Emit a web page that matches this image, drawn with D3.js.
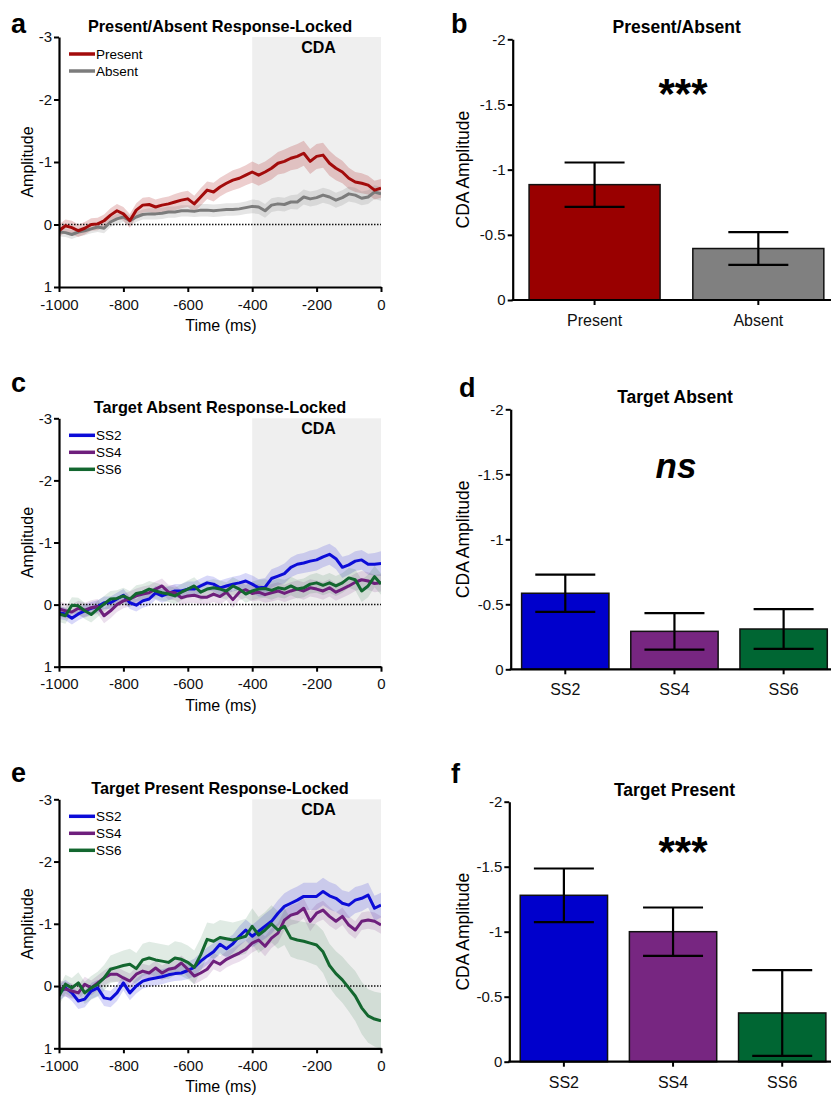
<!DOCTYPE html>
<html>
<head>
<meta charset="utf-8">
<script src="https://cdn.jsdelivr.net/npm/d3@7"></script>
<style>
  body { margin: 0; background: #fff; }
  svg { display: block; font-family: "Liberation Sans", Arial, sans-serif; }
</style>
</head>
<body>
<script>
// ---------- data ----------
// ERP sample times (ms, response-locked), one sample every 20 ms
const times = d3.range(-1000, 1, 20);
const cdaWindow = [-400, 0];
const lineTicksX = [-1000, -800, -600, -400, -200, 0];
const lineTicksY = [-3, -2, -1, 0, 1];
const barTicksY = [-2, -1.5, -1, -0.5, 0];

// Panel a: present / absent (amplitude, µV; negative is plotted upward)
const presentWave = [0.1, 0.02, 0.05, 0.1, 0.06, 0.0, -0.01, -0.06, -0.15, -0.22,
  -0.17, -0.06, -0.23, -0.31, -0.32, -0.28, -0.31, -0.33, -0.36, -0.39,
  -0.41, -0.33, -0.44, -0.55, -0.52, -0.6, -0.66, -0.71, -0.74, -0.79,
  -0.84, -0.79, -0.84, -0.9, -0.98, -1.01, -1.06, -1.09, -1.14, -1.01,
  -1.09, -1.11, -0.98, -0.9, -0.84, -0.74, -0.68, -0.66, -0.63, -0.55, -0.58];
const presentSem = [0.1, 0.1, 0.11, 0.1, 0.1, 0.1, 0.1, 0.1, 0.11, 0.11,
  0.11, 0.11, 0.11, 0.12, 0.12, 0.12, 0.12, 0.12, 0.13, 0.13,
  0.13, 0.13, 0.14, 0.14, 0.15, 0.15, 0.15, 0.16, 0.16, 0.16,
  0.17, 0.17, 0.17, 0.18, 0.18, 0.19, 0.19, 0.2, 0.2, 0.2,
  0.2, 0.2, 0.2, 0.19, 0.18, 0.17, 0.16, 0.16, 0.15, 0.15, 0.15];
const absentWave = [0.12, 0.13, 0.16, 0.12, 0.1, 0.07, 0.04, 0.06, -0.04, -0.09,
  -0.12, -0.06, -0.12, -0.16, -0.17, -0.17, -0.18, -0.2, -0.2, -0.22,
  -0.22, -0.21, -0.23, -0.23, -0.22, -0.23, -0.24, -0.24, -0.25, -0.27,
  -0.29, -0.28, -0.22, -0.31, -0.33, -0.32, -0.36, -0.36, -0.44, -0.41,
  -0.43, -0.47, -0.44, -0.39, -0.43, -0.49, -0.47, -0.42, -0.44, -0.52, -0.49];
const absentSem = [0.07, 0.07, 0.07, 0.07, 0.07, 0.07, 0.08, 0.08, 0.08, 0.08,
  0.08, 0.08, 0.08, 0.08, 0.09, 0.09, 0.09, 0.09, 0.09, 0.09,
  0.09, 0.09, 0.1, 0.1, 0.1, 0.1, 0.1, 0.1, 0.1, 0.1,
  0.11, 0.11, 0.11, 0.11, 0.11, 0.11, 0.11, 0.12, 0.12, 0.12,
  0.12, 0.12, 0.12, 0.12, 0.12, 0.12, 0.12, 0.11, 0.11, 0.11, 0.11];

// Panel c: target absent, by set size
const absSS2 = [0.13, 0.15, 0.22, 0.15, 0.1, 0.06, 0.03, -0.03, -0.03, -0.09,
  -0.15, -0.03, 0.01, -0.06, -0.09, -0.19, -0.14, -0.18, -0.22, -0.22,
  -0.25, -0.25, -0.3, -0.35, -0.33, -0.27, -0.3, -0.33, -0.35, -0.38,
  -0.33, -0.27, -0.28, -0.42, -0.46, -0.5, -0.6, -0.65, -0.67, -0.7,
  -0.72, -0.77, -0.81, -0.74, -0.6, -0.64, -0.7, -0.72, -0.65, -0.65, -0.66];
const absSS2Sem = [0.1, 0.1, 0.1, 0.1, 0.1, 0.1, 0.1, 0.1, 0.1, 0.1,
  0.1, 0.1, 0.1, 0.11, 0.11, 0.11, 0.11, 0.11, 0.11, 0.11,
  0.12, 0.12, 0.12, 0.12, 0.12, 0.12, 0.12, 0.12, 0.12, 0.13,
  0.14, 0.14, 0.15, 0.15, 0.15, 0.16, 0.16, 0.16, 0.16, 0.17,
  0.17, 0.17, 0.17, 0.17, 0.17, 0.16, 0.16, 0.16, 0.17, 0.18, 0.2];
const absSS4 = [0.07, 0.1, 0.12, 0.06, 0.09, 0.05, 0.03, 0.18, 0.1, 0.0,
  -0.06, -0.09, -0.14, -0.17, -0.19, -0.25, -0.3, -0.2, -0.19, -0.11,
  -0.14, -0.15, -0.12, -0.12, -0.17, -0.13, -0.2, -0.08, -0.2, -0.24,
  -0.18, -0.2, -0.16, -0.19, -0.22, -0.18, -0.22, -0.25, -0.22, -0.27,
  -0.25, -0.22, -0.27, -0.2, -0.25, -0.3, -0.36, -0.4, -0.38, -0.34, -0.35];
const absSS4Sem = [0.12, 0.12, 0.12, 0.12, 0.12, 0.12, 0.12, 0.12, 0.12, 0.12,
  0.12, 0.12, 0.12, 0.12, 0.12, 0.12, 0.12, 0.12, 0.12, 0.12,
  0.12, 0.12, 0.12, 0.12, 0.13, 0.13, 0.13, 0.13, 0.13, 0.13,
  0.13, 0.13, 0.13, 0.14, 0.14, 0.14, 0.14, 0.14, 0.14, 0.14,
  0.14, 0.14, 0.14, 0.14, 0.14, 0.14, 0.14, 0.14, 0.14, 0.14, 0.14];
const absSS6 = [0.15, 0.18, 0.01, 0.02, 0.1, 0.16, 0.07, -0.01, -0.09, -0.1,
  -0.14, -0.09, -0.18, -0.2, -0.25, -0.22, -0.19, -0.17, -0.14, -0.2,
  -0.25, -0.3, -0.2, -0.25, -0.27, -0.25, -0.22, -0.3, -0.25, -0.17,
  -0.22, -0.25, -0.26, -0.23, -0.27, -0.25, -0.3, -0.25, -0.27, -0.33,
  -0.35, -0.31, -0.35, -0.3, -0.35, -0.43, -0.4, -0.22, -0.3, -0.45, -0.33];
const absSS6Sem = [0.13, 0.13, 0.13, 0.13, 0.13, 0.13, 0.13, 0.13, 0.13, 0.13,
  0.13, 0.13, 0.13, 0.13, 0.13, 0.13, 0.13, 0.13, 0.13, 0.13,
  0.14, 0.14, 0.14, 0.14, 0.14, 0.14, 0.14, 0.14, 0.14, 0.14,
  0.15, 0.15, 0.15, 0.15, 0.15, 0.15, 0.15, 0.15, 0.15, 0.15,
  0.16, 0.16, 0.16, 0.16, 0.16, 0.16, 0.17, 0.18, 0.18, 0.17, 0.17];

// Panel e: target present, by set size
const presSS2 = [0.11, 0.03, 0.11, 0.24, 0.21, 0.08, 0.03, 0.19, 0.21, 0.11,
  -0.05, 0.11, 0.0, -0.08, -0.11, -0.13, -0.15, -0.18, -0.2, -0.21,
  -0.25, -0.3, -0.4, -0.48, -0.55, -0.67, -0.6, -0.68, -0.8, -0.9,
  -0.8, -0.88, -0.96, -1.04, -1.17, -1.28, -1.33, -1.38, -1.44, -1.44,
  -1.44, -1.52, -1.45, -1.41, -1.33, -1.3, -1.38, -1.41, -1.46, -1.25, -1.3];
const presSS2Sem = [0.13, 0.13, 0.13, 0.13, 0.13, 0.13, 0.13, 0.13, 0.13, 0.13,
  0.12, 0.12, 0.12, 0.12, 0.12, 0.12, 0.12, 0.12, 0.12, 0.12,
  0.14, 0.14, 0.14, 0.14, 0.14, 0.14, 0.15, 0.15, 0.16, 0.17,
  0.18, 0.19, 0.2, 0.2, 0.21, 0.21, 0.22, 0.22, 0.22, 0.22,
  0.22, 0.22, 0.22, 0.22, 0.21, 0.21, 0.21, 0.21, 0.2, 0.2, 0.2];
const presSS4 = [0.03, 0.05, 0.08, 0.11, -0.03, 0.03, -0.05, -0.13, -0.19, -0.19,
  -0.13, -0.08, -0.19, -0.24, -0.21, -0.29, -0.21, -0.27, -0.29, -0.37,
  -0.27, -0.16, -0.21, -0.27, -0.4, -0.35, -0.43, -0.48, -0.53, -0.59,
  -0.69, -0.74, -0.64, -0.77, -0.85, -1.06, -1.14, -1.17, -1.25, -1.04,
  -1.17, -1.22, -1.12, -1.04, -1.12, -0.98, -0.9, -1.04, -1.06, -1.04, -0.98];
const presSS4Sem = [0.12, 0.12, 0.12, 0.12, 0.12, 0.12, 0.12, 0.12, 0.12, 0.12,
  0.12, 0.12, 0.12, 0.12, 0.12, 0.12, 0.12, 0.12, 0.12, 0.12,
  0.13, 0.13, 0.13, 0.13, 0.13, 0.13, 0.13, 0.13, 0.14, 0.14,
  0.15, 0.15, 0.16, 0.16, 0.16, 0.16, 0.16, 0.16, 0.16, 0.16,
  0.15, 0.15, 0.15, 0.14, 0.14, 0.14, 0.14, 0.14, 0.14, 0.14, 0.14];
const presSS6 = [0.16, -0.03, 0.03, -0.05, 0.11, 0.03, -0.03, -0.13, -0.27, -0.3,
  -0.33, -0.35, -0.28, -0.42, -0.45, -0.42, -0.4, -0.38, -0.45, -0.43,
  -0.38, -0.3, -0.5, -0.75, -0.72, -0.78, -0.76, -0.74, -0.77, -0.8,
  -0.96, -0.82, -0.9, -1.0, -0.9, -0.96, -0.77, -0.74, -0.72, -0.69,
  -0.66, -0.55, -0.33, -0.2, -0.1, 0.03, 0.16, 0.35, 0.48, 0.53, 0.56];
const presSS6Sem = [0.15, 0.15, 0.16, 0.17, 0.18, 0.19, 0.2, 0.21, 0.22, 0.23,
  0.24, 0.25, 0.25, 0.26, 0.26, 0.27, 0.27, 0.27, 0.27, 0.27,
  0.27, 0.27, 0.27, 0.27, 0.28, 0.28, 0.28, 0.28, 0.28, 0.28,
  0.29, 0.29, 0.29, 0.3, 0.3, 0.3, 0.3, 0.31, 0.31, 0.32,
  0.33, 0.34, 0.35, 0.36, 0.37, 0.38, 0.4, 0.42, 0.43, 0.44, 0.45];

// Mean CDA amplitude in the window, with SEM error bars
const barPresAbsCats = ["Present", "Absent"];
const barPresAbsMeans = [-0.885, -0.395];
const barPresAbsErr = [0.17, 0.125];
const setSizeCats = ["SS2", "SS4", "SS6"];
const barAbsentMeans = [-0.585, -0.292, -0.31];
const barAbsentErr = [0.143, 0.14, 0.153];
const barPresentMeans = [-1.28, -1.0, -0.375];
const barPresentErr = [0.206, 0.186, 0.33];

// ---------- palette ----------
const colPresent = "#a30b0b", colAbsent = "#7c7c7c";
const colSS2 = "#0c0cd8", colSS4 = "#6e1f7c", colSS6 = "#13672f";
const barColPresent = "#990000", barColAbsent = "#808080";
const barColSS2 = "#0000cc", barColSS4 = "#772681", barColSS6 = "#006633";

const svg = d3.select("body").append("svg").attr("width", 831).attr("height", 1096);
const FONT = '"Liberation Sans", Arial, sans-serif';
const fmt = d => String(d);

function panelLetter(txt, x, y) {
  svg.append("text").attr("x", x).attr("y", y).attr("font-size", 27)
    .attr("font-weight", "bold").text(txt);
}

function linePanel(p) {
  const x = d3.scaleLinear().domain([-1000, 0]).range([59, 381]);
  const y = d3.scaleLinear().domain([-3, 1]).range([p.top, p.bottom]);
  const g = svg.append("g");

  const clipId = "clip-" + p.letter;
  svg.append("clipPath").attr("id", clipId).append("rect")
    .attr("x", x(-1000)).attr("y", p.top)
    .attr("width", x(0) - x(-1000)).attr("height", p.bottom - p.top);

  // CDA window shading
  g.append("rect")
    .attr("x", x(cdaWindow[0])).attr("y", y(-3))
    .attr("width", x(cdaWindow[1]) - x(cdaWindow[0]))
    .attr("height", y(1) - y(-3))
    .attr("fill", "#efefef");

  const plot = g.append("g").attr("clip-path", `url(#${clipId})`);

  p.series.forEach(s => {
    const area = d3.area()
      .x((d, i) => x(times[i]))
      .y0((d, i) => y(d - s.sem[i]))
      .y1((d, i) => y(d + s.sem[i]));
    plot.append("path").datum(s.values).attr("d", area)
      .attr("fill", s.color).attr("fill-opacity", s.bandOpacity);
  });

  plot.append("line")
    .attr("x1", x(-1000)).attr("x2", x(0))
    .attr("y1", y(0)).attr("y2", y(0))
    .attr("stroke", "#111").attr("stroke-width", 1.5)
    .attr("stroke-dasharray", "1.5,1.5");

  const line = d3.line().x((d, i) => x(times[i])).y(d => y(d));
  p.drawOrder.forEach(k => {
    const s = p.series[k];
    plot.append("path").datum(s.values).attr("d", line)
      .attr("fill", "none").attr("stroke", s.color)
      .attr("stroke-width", 3).attr("stroke-linejoin", "round");
  });

  // axes
  const ax = g.append("g").attr("transform", `translate(0,${y(1)})`)
    .call(d3.axisBottom(x).tickValues(lineTicksX).tickFormat(fmt)
      .tickSize(5).tickSizeOuter(0).tickPadding(7));
  const ay = g.append("g").attr("transform", `translate(${x(-1000)},0)`)
    .call(d3.axisLeft(y).tickValues(lineTicksY).tickFormat(fmt)
      .tickSize(5).tickSizeOuter(0).tickPadding(2));
  [ax, ay].forEach(a => {
    a.select(".domain").attr("stroke", "#000").attr("stroke-width", 2.2);
    a.selectAll(".tick line").attr("stroke", "#000").attr("stroke-width", 2);
    a.selectAll(".tick text").attr("font-size", 15).attr("font-family", FONT).attr("fill", "#111");
  });

  // axis titles
  g.append("text").attr("x", (x(-1000) + x(0)) / 2 + 1).attr("y", y(1) + 44)
    .attr("text-anchor", "middle").attr("font-size", 16).text("Time (ms)");
  g.append("text")
    .attr("transform", `translate(33,${(y(-3) + y(1)) / 2}) rotate(-90)`)
    .attr("text-anchor", "middle").attr("font-size", 16).text("Amplitude");

  // title, window label
  g.append("text").attr("x", 220).attr("y", p.top - 5.5)
    .attr("text-anchor", "middle").attr("font-size", 16.3).attr("font-weight", "bold")
    .text(p.title);
  g.append("text").attr("x", 318.5).attr("y", p.top + 15.5)
    .attr("text-anchor", "middle").attr("font-size", 16).attr("font-weight", "bold")
    .text("CDA");

  // legend
  p.series.forEach((s, i) => {
    const ly = p.top + 17 + i * 17;
    g.append("line").attr("x1", 69).attr("x2", 95).attr("y1", ly).attr("y2", ly)
      .attr("stroke", s.color).attr("stroke-width", 3.5);
    g.append("text").attr("x", 96).attr("y", ly + 5)
      .attr("font-size", 13.5).text(s.name);
  });

  panelLetter(p.letter, 11, p.letterY);
}

function barPanel(p) {
  const x = d3.scaleBand().domain(p.cats)
    .range([p.axisX, p.axisX + 327.5]).paddingInner(0.2).paddingOuter(0.1);
  const y = d3.scaleLinear().domain([0, -2]).range([p.zeroY, p.topY]);
  const g = svg.append("g");

  g.selectAll("rect.bar").data(p.means).join("rect")
    .attr("x", (d, i) => x(p.cats[i]))
    .attr("y", d => y(d))
    .attr("width", x.bandwidth())
    .attr("height", d => y(0) - y(d))
    .attr("fill", (d, i) => p.colors[i])
    .attr("stroke", "#111").attr("stroke-width", 1.5);

  // SEM error bars
  p.means.forEach((m, i) => {
    const cx = x(p.cats[i]) + x.bandwidth() / 2;
    const lo = y(m + p.err[i]), hi = y(m - p.err[i]);
    const eg = g.append("g").attr("stroke", "#000").attr("stroke-width", 2.2);
    eg.append("line").attr("x1", cx).attr("x2", cx).attr("y1", hi).attr("y2", lo);
    eg.append("line").attr("x1", cx - 30).attr("x2", cx + 30).attr("y1", hi).attr("y2", hi);
    eg.append("line").attr("x1", cx - 30).attr("x2", cx + 30).attr("y1", lo).attr("y2", lo);
  });

  const ax = g.append("g").attr("transform", `translate(0,${y(0)})`)
    .call(d3.axisBottom(x).tickSize(5).tickSizeOuter(0).tickPadding(9.5));
  ax.select(".domain").remove();
  ax.append("line").attr("x1", p.axisX - 1).attr("x2", 831)
    .attr("stroke", "#000").attr("stroke-width", 2.2);
  const ay = g.append("g").attr("transform", `translate(${p.axisX},0)`)
    .call(d3.axisLeft(y).tickValues(barTicksY).tickFormat(fmt)
      .tickSize(5).tickSizeOuter(0).tickPadding(2));
  ay.select(".domain").attr("stroke", "#000").attr("stroke-width", 2.2);
  [ax, ay].forEach(a => {
    a.selectAll(".tick line").attr("stroke", "#000").attr("stroke-width", 2);
    a.selectAll(".tick text").attr("font-family", FONT).attr("fill", "#111");
  });
  ay.selectAll(".tick text").attr("font-size", 15);
  ax.selectAll(".tick text").attr("font-size", 16);

  g.append("text")
    .attr("transform", `translate(468.5,${(y(0) + y(-2)) / 2}) rotate(-90)`)
    .attr("text-anchor", "middle").attr("font-size", 17.5).text("CDA Amplitude");

  g.append("text").attr("x", p.titleX).attr("y", p.topY - 6)
    .attr("text-anchor", "middle").attr("font-size", 17.5).attr("font-weight", "bold")
    .text(p.title);

  if (p.sig === "ns") {
    g.append("text").attr("x", 676).attr("y", p.sigY)
      .attr("text-anchor", "middle").attr("font-size", 35)
      .attr("font-weight", "bold").attr("font-style", "italic").text("ns");
  } else {
    g.append("text").attr("x", 683).attr("y", p.sigY)
      .attr("text-anchor", "middle").attr("font-size", 42)
      .attr("font-weight", "bold").text(p.sig);
  }

  panelLetter(p.letter, p.letterX, p.letterY);
}

// ---------- panels ----------
linePanel({
  letter: "a", letterY: 33, top: 37, bottom: 287,
  title: "Present/Absent Response-Locked",
  series: [
    { name: "Present", values: presentWave, sem: presentSem, color: colPresent, bandOpacity: 0.2 },
    { name: "Absent", values: absentWave, sem: absentSem, color: colAbsent, bandOpacity: 0.2 }
  ],
  drawOrder: [1, 0]
});
linePanel({
  letter: "c", letterY: 392, top: 418.3, bottom: 666.7,
  title: "Target Absent Response-Locked",
  series: [
    { name: "SS2", values: absSS2, sem: absSS2Sem, color: colSS2, bandOpacity: 0.16 },
    { name: "SS4", values: absSS4, sem: absSS4Sem, color: colSS4, bandOpacity: 0.14 },
    { name: "SS6", values: absSS6, sem: absSS6Sem, color: colSS6, bandOpacity: 0.13 }
  ],
  drawOrder: [0, 1, 2]
});
linePanel({
  letter: "e", letterY: 782, top: 799.3, bottom: 1048.3,
  title: "Target Present Response-Locked",
  series: [
    { name: "SS2", values: presSS2, sem: presSS2Sem, color: colSS2, bandOpacity: 0.16 },
    { name: "SS4", values: presSS4, sem: presSS4Sem, color: colSS4, bandOpacity: 0.14 },
    { name: "SS6", values: presSS6, sem: presSS6Sem, color: colSS6, bandOpacity: 0.13 }
  ],
  drawOrder: [0, 1, 2]
});

barPanel({
  letter: "b", letterX: 451, letterY: 33, axisX: 512.7, topY: 39.3, zeroY: 300,
  title: "Present/Absent", titleX: 676.7,
  cats: barPresAbsCats, means: barPresAbsMeans, err: barPresAbsErr,
  colors: [barColPresent, barColAbsent], sig: "***", sigY: 108
});
barPanel({
  letter: "d", letterX: 459, letterY: 397, axisX: 510.7, topY: 409.3, zeroY: 669.3,
  title: "Target Absent", titleX: 675,
  cats: setSizeCats, means: barAbsentMeans, err: barAbsentErr,
  colors: [barColSS2, barColSS4, barColSS6], sig: "ns", sigY: 478
});
barPanel({
  letter: "f", letterX: 451, letterY: 783, axisX: 509.3, topY: 801.7, zeroY: 1061.7,
  title: "Target Present", titleX: 674.5,
  cats: setSizeCats, means: barPresentMeans, err: barPresentErr,
  colors: [barColSS2, barColSS4, barColSS6], sig: "***", sigY: 866
});
</script>
</body>
</html>
